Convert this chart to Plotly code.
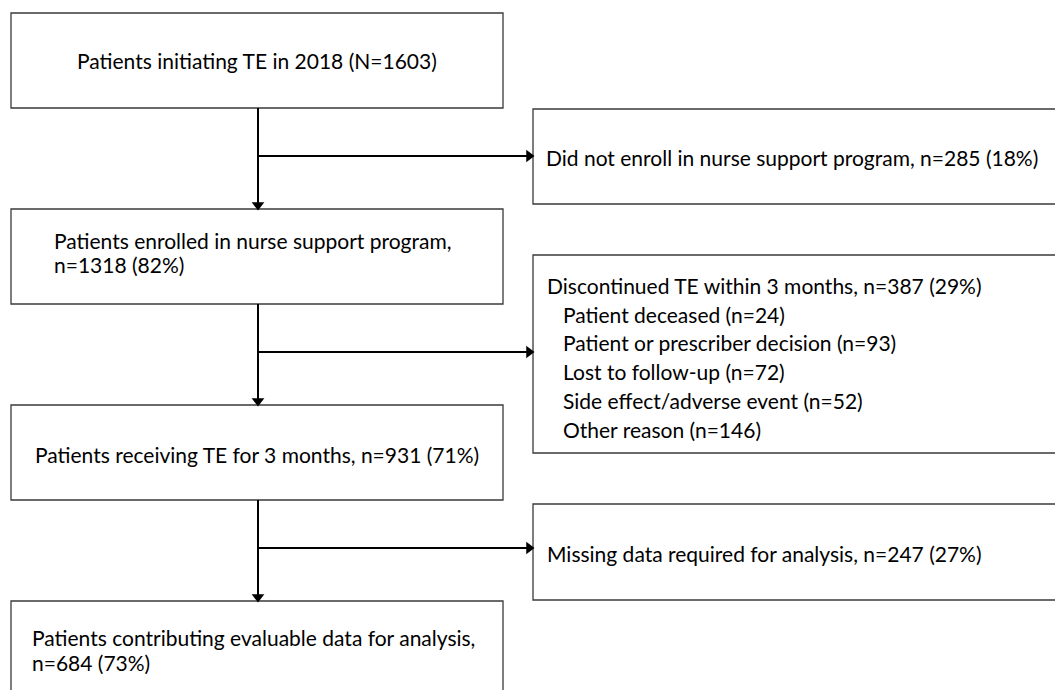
import plotly.graph_objects as go

# ---- data ----
main_labels = ["Patients initiating TE in 2018", "Patients enrolled in nurse support program,",
               "Patients receiving TE for 3 months,", "Patients contributing evaluable data for analysis,"]
main_counts = [1603, 1318, 931, 684]
main_pcts = [None, 82, 71, 73]
excl_labels = ["Did not enroll in nurse support program,", "Discontinued TE within 3 months,",
               "Missing data required for analysis,"]
excl_counts = [285, 387, 247]
excl_pcts = [18, 29, 27]
reason_labels = ["Patient deceased", "Patient or prescriber decision", "Lost to follow-up",
                 "Side effect/adverse event", "Other reason"]
reason_counts = [24, 93, 72, 52, 146]

# ---- layout geometry (page pixel space) ----
W, H = 1055, 690
main_boxes = [(11, 13, 503, 108), (11, 209, 503, 304), (11, 405, 503, 500), (11, 601, 503, 700)]
excl_boxes = [(533, 109, 1062, 204), (533, 255, 1062, 453), (533, 504, 1062, 600)]
vx = 258
branch_y = [156, 352, 548]

FONT = dict(family="Lato, 'Open Sans', sans-serif", size=21, color="black")

fig = go.Figure()
shapes = []
for (x0, y0, x1, y1) in main_boxes + excl_boxes:
    shapes.append(dict(type="rect", xref="x", yref="y", x0=x0, y0=y0, x1=x1, y1=y1,
                       line=dict(color="#3a3a3a", width=1.3), fillcolor="white", layer="below"))
# connectors
for i in range(3):
    y_top = main_boxes[i][3]
    y_bot = main_boxes[i + 1][1]
    shapes.append(dict(type="line", xref="x", yref="y", x0=vx, x1=vx, y0=y_top, y1=y_bot - 6,
                       line=dict(color="black", width=2)))
    shapes.append(dict(type="line", xref="x", yref="y", x0=vx, x1=excl_boxes[i][0] - 6,
                       y0=branch_y[i], y1=branch_y[i], line=dict(color="black", width=2)))
fig.update_layout(shapes=shapes)

# arrowheads
fig.add_trace(go.Scatter(x=[vx] * 3, y=[main_boxes[i + 1][1] - 4 for i in range(3)], mode="markers",
                         marker=dict(symbol="triangle-down", size=11, color="black"),
                         hoverinfo="skip", showlegend=False))
fig.add_trace(go.Scatter(x=[excl_boxes[i][0] - 4 for i in range(3)], y=branch_y, mode="markers",
                         marker=dict(symbol="triangle-right", size=11, color="black"),
                         hoverinfo="skip", showlegend=False))

ann = []
def txt(x, y, s, anchor="left"):
    ann.append(dict(x=x, y=y, xref="x", yref="y", text=s, showarrow=False, xanchor=anchor,
                    yanchor="middle", font=FONT))

txt(257, 60, f"{main_labels[0]} (N={main_counts[0]})", "center")
txt(52, 240, main_labels[1])
txt(52, 264, f"n={main_counts[1]} ({main_pcts[1]}%)")
txt(257, 454, f"{main_labels[2]} n={main_counts[2]} ({main_pcts[2]}%)", "center")
txt(30, 637, main_labels[3])
txt(30, 662, f"n={main_counts[3]} ({main_pcts[3]}%)")

txt(544, 157, f"{excl_labels[0]} n={excl_counts[0]} ({excl_pcts[0]}%)")
txt(545, 285, f"{excl_labels[1]} n={excl_counts[1]} ({excl_pcts[1]}%)")
for k, (lab, c) in enumerate(zip(reason_labels, reason_counts)):
    txt(561, 314 + 28.8 * k, f"{lab} (n={c})")
txt(545, 553, f"{excl_labels[2]} n={excl_counts[2]} ({excl_pcts[2]}%)")

fig.update_layout(
    annotations=ann,
    width=W, height=H, margin=dict(l=0, r=0, t=0, b=0),
    paper_bgcolor="white", plot_bgcolor="white",
    xaxis=dict(range=[0, W], visible=False, fixedrange=True),
    yaxis=dict(range=[H, 0], visible=False, fixedrange=True),
    showlegend=False,
)
fig.write_html("out.html", config={"displayModeBar": False},
               post_script="document.body.style.margin='0';document.body.style.overflow='hidden';")
